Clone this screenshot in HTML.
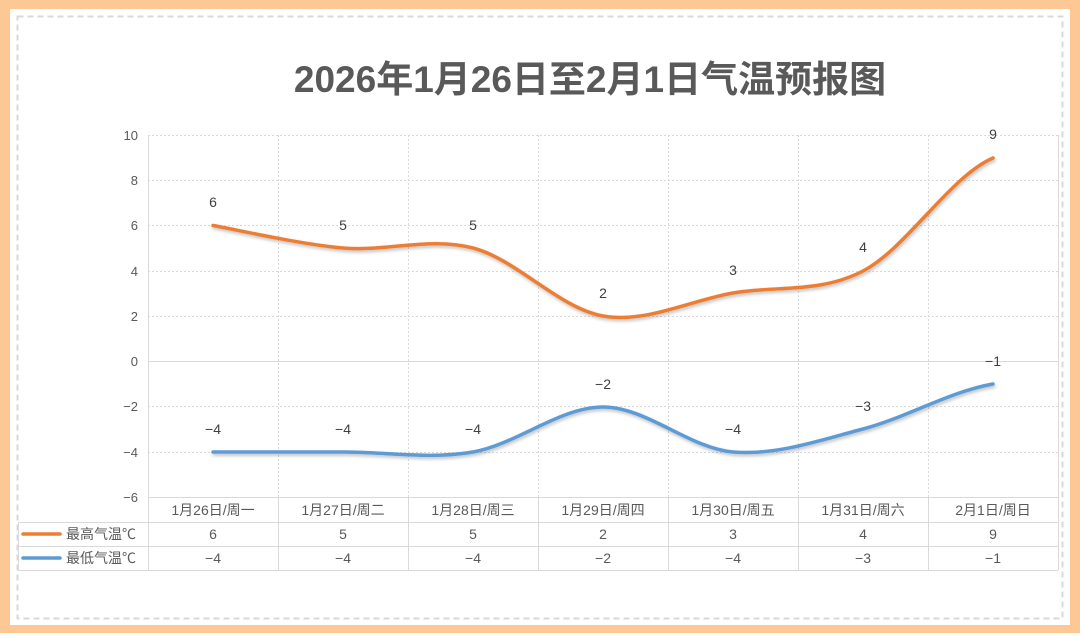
<!DOCTYPE html><html><head><meta charset="utf-8"><style>body{margin:0;width:1080px;height:633px;overflow:hidden;background:#fff}</style></head><body>
<svg width="1080" height="633" xmlns="http://www.w3.org/2000/svg" font-family="Liberation Sans, Noto Sans CJK SC, sans-serif">
<defs><filter id="sh" x="-5%" y="-20%" width="110%" height="140%"><feDropShadow dx="1" dy="2" stdDeviation="1.5" flood-color="#000" flood-opacity="0.25"/></filter></defs>
<rect x="0" y="0" width="1080" height="633" fill="#fec895"/>
<rect x="10" y="9" width="1060" height="616" fill="#fff"/>
<rect x="17.5" y="16.5" width="1045" height="602" fill="none" stroke="#d9d9d9" stroke-width="2" stroke-dasharray="6,4"/>
<text x="590" y="92" text-anchor="middle" font-size="37" font-weight="bold" fill="#595959">2026年1月26日至2月1日气温预报图</text>
<g stroke="#d9d9d9" stroke-width="1" stroke-dasharray="2,2">
<line x1="148" y1="135.5" x2="1058" y2="135.5"/><line x1="148" y1="180.5" x2="1058" y2="180.5"/><line x1="148" y1="225.5" x2="1058" y2="225.5"/><line x1="148" y1="271.5" x2="1058" y2="271.5"/><line x1="148" y1="316.5" x2="1058" y2="316.5"/><line x1="148" y1="406.5" x2="1058" y2="406.5"/><line x1="148" y1="452.5" x2="1058" y2="452.5"/>
<line x1="278.5" y1="135" x2="278.5" y2="497"/><line x1="408.5" y1="135" x2="408.5" y2="497"/><line x1="538.5" y1="135" x2="538.5" y2="497"/><line x1="668.5" y1="135" x2="668.5" y2="497"/><line x1="798.5" y1="135" x2="798.5" y2="497"/><line x1="928.5" y1="135" x2="928.5" y2="497"/>
</g>
<g stroke="#d9d9d9" stroke-width="1">
<line x1="148" y1="361.5" x2="1058" y2="361.5"/>
<line x1="148.5" y1="135" x2="148.5" y2="570"/><line x1="1058.5" y1="135" x2="1058.5" y2="570"/>
<line x1="148" y1="497.5" x2="1058" y2="497.5"/>
<line x1="18" y1="522.5" x2="1058" y2="522.5"/><line x1="18" y1="546.5" x2="1058" y2="546.5"/><line x1="18" y1="570.5" x2="1058" y2="570.5"/>
<line x1="18.5" y1="522" x2="18.5" y2="570"/>
<line x1="278.5" y1="497" x2="278.5" y2="570"/><line x1="408.5" y1="497" x2="408.5" y2="570"/><line x1="538.5" y1="497" x2="538.5" y2="570"/><line x1="668.5" y1="497" x2="668.5" y2="570"/><line x1="798.5" y1="497" x2="798.5" y2="570"/><line x1="928.5" y1="497" x2="928.5" y2="570"/>
</g>
<g font-size="13" fill="#595959" text-anchor="end">
<text x="138" y="140">10</text><text x="138" y="185">8</text><text x="138" y="230">6</text><text x="138" y="276">4</text><text x="138" y="321">2</text><text x="138" y="366">0</text><text x="138" y="411">−2</text><text x="138" y="457">−4</text><text x="138" y="502">−6</text>
</g>
<g font-size="14" fill="#595959" text-anchor="middle">
<text x="213" y="515">1月26日/周一</text><text x="343" y="515">1月27日/周二</text><text x="473" y="515">1月28日/周三</text><text x="603" y="515">1月29日/周四</text><text x="733" y="515">1月30日/周五</text><text x="863" y="515">1月31日/周六</text><text x="993" y="515">2月1日/周日</text>
<text x="213" y="539">6</text><text x="343" y="539">5</text><text x="473" y="539">5</text><text x="603" y="539">2</text><text x="733" y="539">3</text><text x="863" y="539">4</text><text x="993" y="539">9</text>
<text x="213" y="563">−4</text><text x="343" y="563">−4</text><text x="473" y="563">−4</text><text x="603" y="563">−2</text><text x="733" y="563">−4</text><text x="863" y="563">−3</text><text x="993" y="563">−1</text>
</g>
<line x1="23" y1="534" x2="60" y2="534" stroke="#ed7d31" stroke-width="3.5" stroke-linecap="round"/>
<line x1="23" y1="558" x2="60" y2="558" stroke="#5b9bd5" stroke-width="3.5" stroke-linecap="round"/>
<text x="66" y="539" font-size="14" fill="#595959">最高气温℃</text>
<text x="66" y="563" font-size="14" fill="#595959">最低气温℃</text>
<path filter="url(#sh)" d="M213,225.5 C234.7,229.25 299.7,244.25 343,248 C386.3,251.75 429.7,236.67 473,248 C516.3,259.33 559.7,308.5 603,316 C646.3,323.5 689.7,300.5 733,293 C776.3,285.5 819.7,293.5 863,271 C906.3,248.5 949.7,176.8 993,158" fill="none" stroke="#ed7d31" stroke-width="3.5" stroke-linecap="round"/>
<path filter="url(#sh)" d="M213,452 C234.7,452 299.7,452 343,452 C386.3,452 429.7,459.5 473,452 C516.3,444.5 559.7,407 603,407 C646.3,407 689.7,448.3 733,452 C776.3,455.67 819.7,440.3 863,429 C906.3,417.67 949.7,391.5 993,384" fill="none" stroke="#5b9bd5" stroke-width="3.5" stroke-linecap="round"/>
<g font-size="14" fill="#404040" text-anchor="middle">
<text x="213" y="207">6</text><text x="343" y="230">5</text><text x="473" y="230">5</text><text x="603" y="298">2</text><text x="733" y="275">3</text><text x="863" y="252">4</text><text x="993" y="139">9</text>
<text x="213" y="434">−4</text><text x="343" y="434">−4</text><text x="473" y="434">−4</text><text x="603" y="389">−2</text><text x="733" y="434">−4</text><text x="863" y="411">−3</text><text x="993" y="366">−1</text>
</g>
</svg>
</body></html>
